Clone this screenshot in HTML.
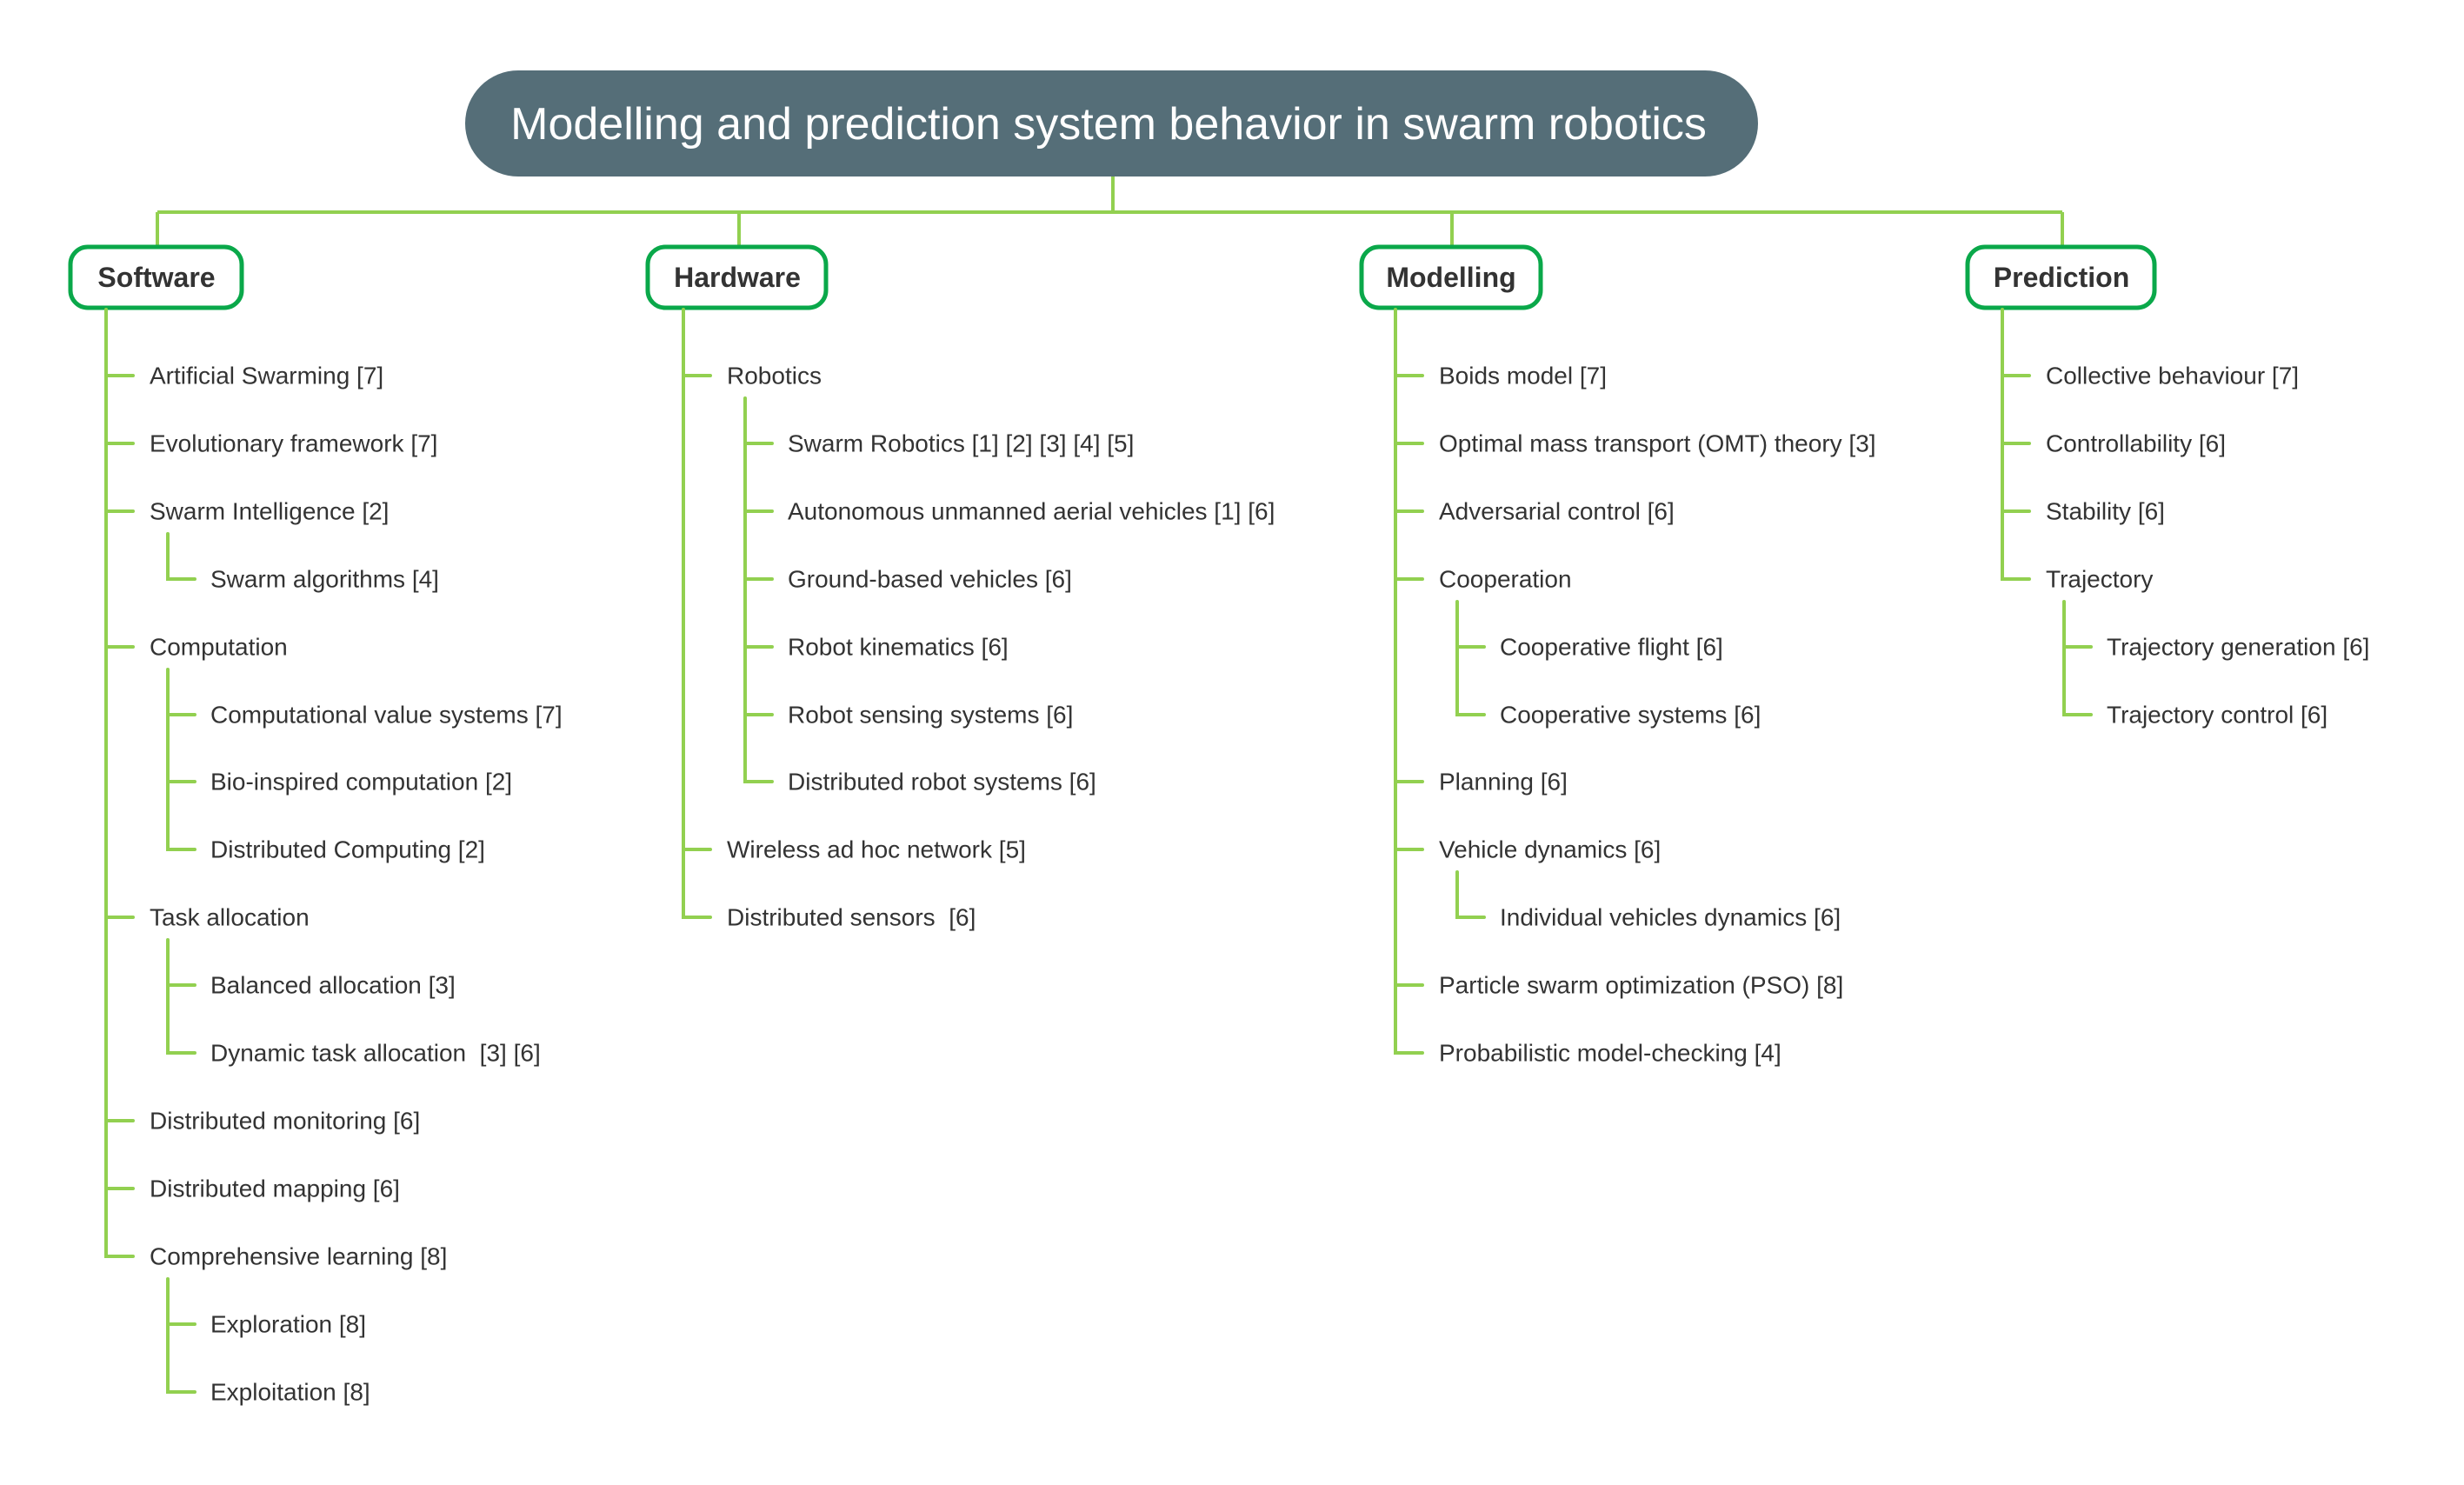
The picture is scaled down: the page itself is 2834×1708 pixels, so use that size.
<!DOCTYPE html>
<html><head><meta charset="utf-8"><style>
html,body{margin:0;padding:0;background:#fff;}
svg{display:block;}
text{font-family:"Liberation Sans",Arial,sans-serif;}
.t{font-size:28px;fill:#333;dominant-baseline:central;}
.c{font-size:32px;font-weight:bold;fill:#333;dominant-baseline:central;text-anchor:middle;}
.l{stroke:#92d050;stroke-width:4;fill:none;stroke-linecap:round;}
.b{stroke:#0aa84a;stroke-width:5;fill:#fff;}
</style></head><body>
<svg width="2834" height="1708" viewBox="0 0 2834 1708" xmlns="http://www.w3.org/2000/svg">
<rect x="535" y="81" width="1487" height="122" rx="61" fill="#556e78"/>
<text x="1275" y="143" font-size="52" fill="#fff" text-anchor="middle" dominant-baseline="central">Modelling and prediction system behavior in swarm robotics</text>
<path class="l" style="stroke-linecap:butt" d="M1280 203 V244 M181 244 H2372 M181 244 V282 M850 244 V282 M1670 244 V282 M2372 244 V282"/>
<rect class="b" x="81" y="284" width="197" height="70" rx="20"/>
<rect class="b" x="745" y="284" width="205" height="70" rx="20"/>
<rect class="b" x="1566" y="284" width="206" height="70" rx="20"/>
<rect class="b" x="2263" y="284" width="215" height="70" rx="20"/>
<text class="c" x="180" y="319">Software</text>
<text class="c" x="848" y="319">Hardware</text>
<text class="c" x="1669" y="319">Modelling</text>
<text class="c" x="2371" y="319">Prediction</text>

<!-- Software -->
<path class="l" d="M122 356 V1445 H153 M122 432 H153 M122 510 H153 M122 588 H153 M122 744 H153 M122 1055 H153 M122 1289 H153 M122 1367 H153"/>
<path class="l" d="M193 614 V666 H224"/>
<path class="l" d="M193 770 V977 H224 M193 822 H224 M193 899 H224"/>
<path class="l" d="M193 1081 V1211 H224 M193 1133 H224"/>
<path class="l" d="M193 1471 V1601 H224 M193 1523 H224"/>
<text class="t" x="172" y="432">Artificial Swarming [7]</text>
<text class="t" x="172" y="510">Evolutionary framework [7]</text>
<text class="t" x="172" y="588">Swarm Intelligence [2]</text>
<text class="t" x="242" y="666">Swarm algorithms [4]</text>
<text class="t" x="172" y="744">Computation</text>
<text class="t" x="242" y="822">Computational value systems [7]</text>
<text class="t" x="242" y="899">Bio-inspired computation [2]</text>
<text class="t" x="242" y="977">Distributed Computing [2]</text>
<text class="t" x="172" y="1055">Task allocation</text>
<text class="t" x="242" y="1133">Balanced allocation [3]</text>
<text class="t" x="242" y="1211">Dynamic task allocation&#160; [3] [6]</text>
<text class="t" x="172" y="1289">Distributed monitoring [6]</text>
<text class="t" x="172" y="1367">Distributed mapping [6]</text>
<text class="t" x="172" y="1445">Comprehensive learning [8]</text>
<text class="t" x="242" y="1523">Exploration [8]</text>
<text class="t" x="242" y="1601">Exploitation [8]</text>

<!-- Hardware -->
<path class="l" d="M786 356 V1055 H817 M786 432 H817 M786 977 H817"/>
<path class="l" d="M857 458 V899 H888 M857 510 H888 M857 588 H888 M857 666 H888 M857 744 H888 M857 822 H888"/>
<text class="t" x="836" y="432">Robotics</text>
<text class="t" x="906" y="510">Swarm Robotics [1] [2] [3] [4] [5]</text>
<text class="t" x="906" y="588">Autonomous unmanned aerial vehicles [1] [6]</text>
<text class="t" x="906" y="666">Ground-based vehicles [6]</text>
<text class="t" x="906" y="744">Robot kinematics [6]</text>
<text class="t" x="906" y="822">Robot sensing systems [6]</text>
<text class="t" x="906" y="899">Distributed robot systems [6]</text>
<text class="t" x="836" y="977">Wireless ad hoc network [5]</text>
<text class="t" x="836" y="1055">Distributed sensors&#160; [6]</text>

<!-- Modelling -->
<path class="l" d="M1605 356 V1211 H1636 M1605 432 H1636 M1605 510 H1636 M1605 588 H1636 M1605 666 H1636 M1605 899 H1636 M1605 977 H1636 M1605 1133 H1636"/>
<path class="l" d="M1676 692 V822 H1707 M1676 744 H1707"/>
<path class="l" d="M1676 1003 V1055 H1707"/>
<text class="t" x="1655" y="432">Boids model [7]</text>
<text class="t" x="1655" y="510">Optimal mass transport (OMT) theory [3]</text>
<text class="t" x="1655" y="588">Adversarial control [6]</text>
<text class="t" x="1655" y="666">Cooperation</text>
<text class="t" x="1725" y="744">Cooperative flight [6]</text>
<text class="t" x="1725" y="822">Cooperative systems [6]</text>
<text class="t" x="1655" y="899">Planning [6]</text>
<text class="t" x="1655" y="977">Vehicle dynamics [6]</text>
<text class="t" x="1725" y="1055">Individual vehicles dynamics [6]</text>
<text class="t" x="1655" y="1133">Particle swarm optimization (PSO) [8]</text>
<text class="t" x="1655" y="1211">Probabilistic model-checking [4]</text>

<!-- Prediction -->
<path class="l" d="M2303 356 V666 H2334 M2303 432 H2334 M2303 510 H2334 M2303 588 H2334"/>
<path class="l" d="M2374 692 V822 H2405 M2374 744 H2405"/>
<text class="t" x="2353" y="432">Collective behaviour [7]</text>
<text class="t" x="2353" y="510">Controllability [6]</text>
<text class="t" x="2353" y="588">Stability [6]</text>
<text class="t" x="2353" y="666">Trajectory</text>
<text class="t" x="2423" y="744">Trajectory generation [6]</text>
<text class="t" x="2423" y="822">Trajectory control [6]</text>
</svg>
</body></html>
